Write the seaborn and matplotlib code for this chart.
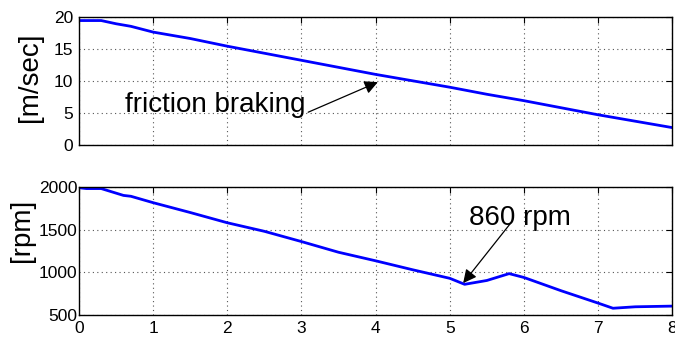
import numpy as np
import pandas as pd
import seaborn as sns
import matplotlib.pyplot as plt

# Data
t_speed = [0, 0.3, 0.5, 0.7, 1.0, 1.5, 2.0, 2.5, 3.0, 3.5, 4.0, 4.5, 5.0, 5.5, 6.0, 6.5, 7.0, 7.5, 8.0]
speed = [19.4, 19.4, 18.9, 18.5, 17.6, 16.6, 15.4, 14.3, 13.2, 12.1, 11.0, 10.0, 9.0, 7.9, 6.9, 5.8, 4.7, 3.7, 2.7]

t_rpm = [0, 0.1, 0.3, 0.6, 0.7, 1.0, 1.5, 2.0, 2.5, 3.0, 3.5, 4.0, 4.5, 5.0, 5.2, 5.5, 5.8, 6.0, 6.5, 7.0, 7.2, 7.5, 8.0]
rpm = [1990, 1980, 1980, 1900, 1890, 1815, 1700, 1580, 1480, 1360, 1235, 1135, 1030, 930, 860, 905, 985, 940, 785, 640, 580, 597, 605]

speed_df = pd.DataFrame({'t': t_speed, 'v': speed})
rpm_df = pd.DataFrame({'t': t_rpm, 'v': rpm})

sns.set_style('white')
plt.rcParams['font.family'] = ['Liberation Sans', 'DejaVu Sans']
plt.rcParams['text.color'] = 'black'
plt.rcParams['axes.labelcolor'] = 'black'
plt.rcParams['xtick.color'] = 'black'
plt.rcParams['ytick.color'] = 'black'

fig = plt.figure(figsize=(6.75, 3.41), dpi=100)
ax1 = fig.add_axes([0.117, 0.575, 0.879, 0.376])
ax2 = fig.add_axes([0.117, 0.076, 0.879, 0.376])

sns.lineplot(data=speed_df, x='t', y='v', ax=ax1, color='#0000ff', linewidth=2.0)
sns.lineplot(data=rpm_df, x='t', y='v', ax=ax2, color='#0000ff', linewidth=2.0)

for ax in (ax1, ax2):
    ax.set_xlim(0, 8)
    ax.set_xticks(range(0, 9))
    ax.set_xlabel('')
    ax.grid(True, linestyle=(0, (1, 3)), color='#555555', linewidth=0.8)
    ax.tick_params(direction='in', top=True, right=True, length=4, labelsize=12.5, pad=4)
    for s in ax.spines.values():
        s.set_color('black')
        s.set_linewidth(1.0)

ax1.set_ylim(0, 20)
ax1.set_yticks([0, 5, 10, 15, 20])
ax1.set_xticklabels([])
ax1.set_ylabel('[m/sec]', fontsize=20)
ax1.yaxis.set_label_coords(-0.061, 0.53)

ax2.set_ylim(500, 2000)
ax2.set_yticks([500, 1000, 1500, 2000])
ax2.set_ylabel('[rpm]', fontsize=20)
ax2.yaxis.set_label_coords(-0.074, 0.66)
ax2.tick_params(axis='y', pad=1)

arrow = dict(arrowstyle='-|>', color='black', lw=0.9, mutation_scale=20, shrinkA=0, shrinkB=0)

ax1.text(3.05, 6.3, 'friction braking', fontsize=20, ha='right', va='center')
ax1.annotate('', xy=(4.03, 9.8), xytext=(3.09, 5.1), arrowprops=arrow)

ax2.text(5.95, 1640, '860 rpm', fontsize=20, ha='center', va='center')
ax2.annotate('', xy=(5.18, 874), xytext=(5.82, 1575), arrowprops=arrow)

fig.savefig('out.png', dpi=100)
